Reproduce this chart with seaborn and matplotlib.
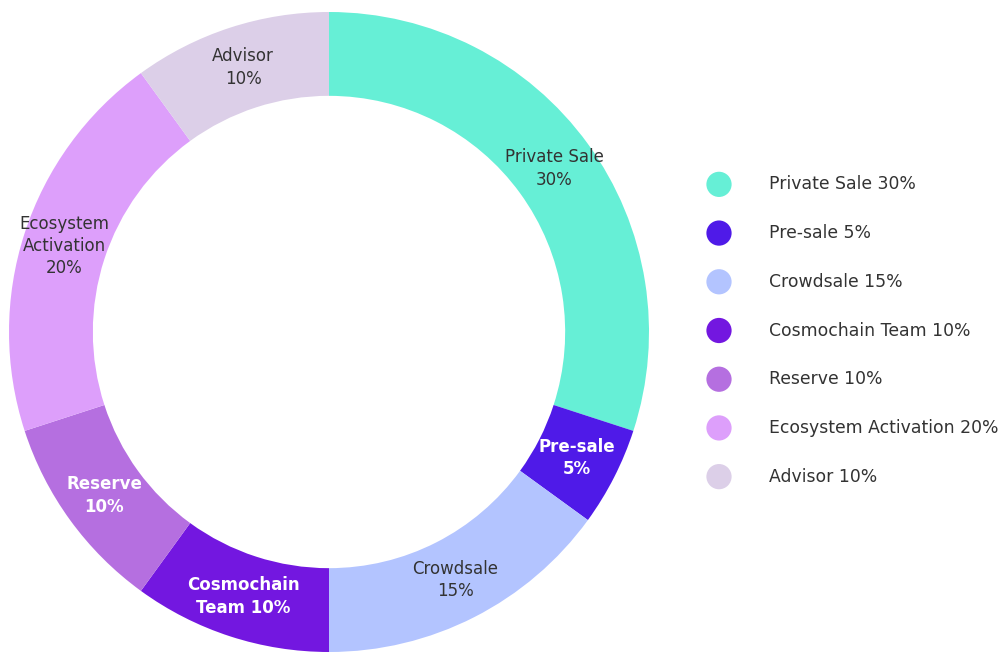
import numpy as np
import matplotlib
matplotlib.use("Agg")
import matplotlib.pyplot as plt
import seaborn as sns

# data
categories = ["Private Sale", "Pre-sale", "Crowdsale", "Cosmochain Team",
              "Reserve", "Ecosystem Activation", "Advisor"]
shares = [30, 5, 15, 10, 10, 20, 10]
slice_labels = ["Private Sale\n30%", "Pre-sale\n5%", "Crowdsale\n15%",
                "Cosmochain\nTeam 10%", "Reserve\n10%",
                "Ecosystem\nActivation\n20%", "Advisor\n10%"]
legend_labels = ["Private Sale 30%", "Pre-sale 5%", "Crowdsale 15%",
                 "Cosmochain Team 10%", "Reserve 10%",
                 "Ecosystem Activation 20%", "Advisor 10%"]
colors = ["#66EFD6", "#4F1AE8", "#B3C4FF", "#7317E0",
          "#B56FE0", "#DD9FFB", "#DCCFE8"]
white_text = [False, True, False, True, True, False, False]


def main():
    sns.set_theme(style="white")
    plt.rcParams["font.family"] = ["DejaVu Sans"]
    palette = sns.color_palette(colors)

    W, H = 1008, 653
    fig = plt.figure(figsize=(W / 100, H / 100), dpi=100)
    fig.patch.set_facecolor("white")

    # ----------------------------------------------------------------
    # Donut
    # ----------------------------------------------------------------
    cx, cy, R = 329, 332, 320
    ax = fig.add_axes([(cx - R) / W, (H - cy - R) / H, 2 * R / W, 2 * R / H])
    ring = 0.262
    wedges, _ = ax.pie(shares, colors=palette, startangle=90, counterclock=False,
                       radius=1.0, wedgeprops=dict(width=ring, linewidth=0))
    ax.set_xlim(-1, 1)
    ax.set_ylim(-1, 1)
    ax.set_aspect("equal")
    ax.axis("off")

    r_lab = 1 - ring / 2
    for w, lab, wt in zip(wedges, slice_labels, white_text):
        mid = np.deg2rad((w.theta1 + w.theta2) / 2)
        ax.text(r_lab * np.cos(mid), r_lab * np.sin(mid), lab,
                ha="center", va="center", fontsize=12, linespacing=1.3,
                color="white" if wt else "#333333",
                fontweight="bold" if wt else "normal")

    # ----------------------------------------------------------------
    # Legend
    # ----------------------------------------------------------------
    top, bottom = 160, 501
    lax = fig.add_axes([700 / W, (H - bottom) / H, 308 / W, (bottom - top) / H])
    rows = np.arange(len(categories))
    sns.scatterplot(x=np.full(len(rows), 19), y=rows, hue=categories,
                    palette=palette, s=330, linewidth=0, legend=False, ax=lax)
    for i, lab in enumerate(legend_labels):
        lax.text(69, i, lab, ha="left", va="center", fontsize=12.4, color="#333333")
    lax.set_xlim(0, 308)
    lax.set_ylim(len(rows) - 0.5, -0.5)
    lax.axis("off")

    fig.savefig("out.png", dpi=100)
    plt.close(fig)


if __name__ == "__main__":
    main()
